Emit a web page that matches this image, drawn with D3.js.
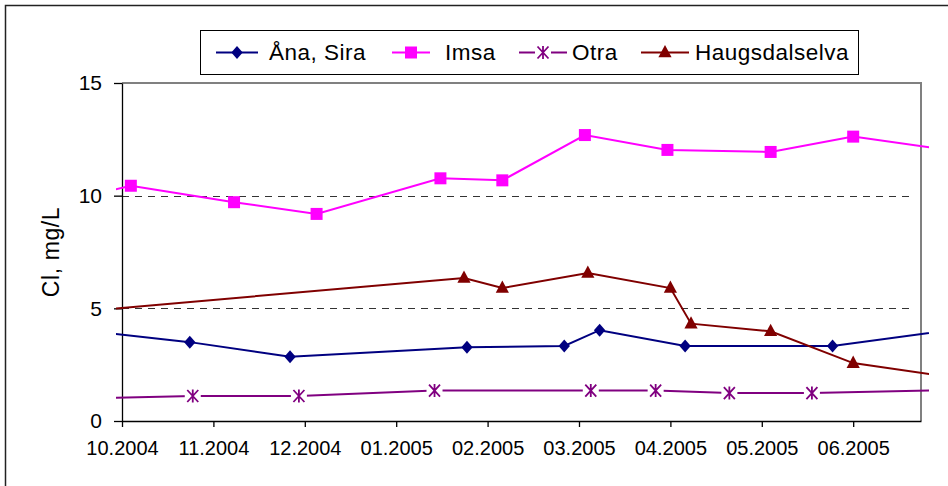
<!DOCTYPE html>
<html>
<head>
<meta charset="utf-8">
<script src="https://cdn.jsdelivr.net/npm/d3@7"></script>
<style>
  body { margin: 0; background: #fff; }
  svg { display: block; font-family: "Liberation Sans", Arial, sans-serif; }
</style>
</head>
<body>
<svg id="chart" width="948" height="486"></svg>
<script>
// ── Data (first/last points sit outside the visible range) ──
const anaDates = ["2004-09-10", "2004-10-24", "2004-11-27", "2005-01-26", "2005-02-28", "2005-03-12", "2005-04-10", "2005-05-30", "2005-07-12"];
const anaValues = [4.13, 3.5, 2.85, 3.27, 3.33, 4.03, 3.33, 3.33, 4.09];

const imsaDates = ["2004-09-10", "2004-10-04", "2004-11-08", "2004-12-06", "2005-01-17", "2005-02-07", "2005-03-07", "2005-04-04", "2005-05-09", "2005-06-06", "2005-07-12"];
const imsaValues = [9.68, 10.44, 9.71, 9.19, 10.77, 10.68, 12.69, 12.03, 11.94, 12.62, 11.96];

const otraDates = ["2004-09-10", "2004-10-25", "2004-11-30", "2005-01-15", "2005-03-09", "2005-03-31", "2005-04-25", "2005-05-23", "2005-07-12"];
const otraValues = [0.97, 1.11, 1.11, 1.35, 1.35, 1.35, 1.24, 1.24, 1.38];

const haugDates = ["2004-09-10", "2005-01-25", "2005-02-07", "2005-03-08", "2005-04-05", "2005-04-12", "2005-05-09", "2005-06-06", "2005-07-12"];
const haugValues = [4.78, 6.35, 5.9, 6.57, 5.9, 4.32, 3.98, 2.57, 1.89];

const seriesNames = ["Åna, Sira", "Imsa", "Otra", "Haugsdalselva"];
const yTicks = [0, 5, 10, 15];
const yGrid = [5, 10];
const xStart = "2004-10-01";
const xEnd = "2005-06-29";
const xTickStepDays = 31;
const xTickCount = 9;

// ── Layout ──────────────────────────────────────────────────────────────────
const W = 948, H = 486;
const plot = {left: 122, right: 921, top: 83, bottom: 421};

const parse = d3.utcParse("%Y-%m-%d");
const fmt = d3.utcFormat("%m.%Y");

const x = d3.scaleUtc()
  .domain([parse(xStart), parse(xEnd)])
  .range([plot.left, plot.right]);
const y = d3.scaleLinear()
  .domain([0, 15])
  .range([plot.bottom, plot.top]);

const xTickValues = d3.range(xTickCount).map((i) => d3.utcDay.offset(parse(xStart), i * xTickStepDays));

// marker shapes
const diamond = {draw(c) { c.moveTo(0, -6.5); c.lineTo(5.7, 0); c.lineTo(0, 6.5); c.lineTo(-5.7, 0); c.closePath(); }};
const square = {draw(c) { c.rect(-6, -6, 12, 12); }};
const triangle = {draw(c) { c.moveTo(0, -7.5); c.lineTo(6.6, 4.8); c.lineTo(-6.6, 4.8); c.closePath(); }};
const asterisk = {draw(c) {
  c.moveTo(-5.5, -6); c.lineTo(5.5, 6);
  c.moveTo(-5.5, 6); c.lineTo(5.5, -6);
  c.moveTo(0, -6.5); c.lineTo(0, 6.5);
}};

const series = [
  {name: seriesNames[0], dates: anaDates, values: anaValues, color: "#000080", symbol: diamond, fill: true},
  {name: seriesNames[1], dates: imsaDates, values: imsaValues, color: "#FF00FF", symbol: square, fill: true},
  {name: seriesNames[2], dates: otraDates, values: otraValues, color: "#800080", symbol: asterisk, fill: false},
  {name: seriesNames[3], dates: haugDates, values: haugValues, color: "#800000", symbol: triangle, fill: true},
].map((s) => ({...s, points: s.dates.map((d, i) => ({date: parse(d), value: s.values[i]}))}));

const svg = d3.select("#chart").attr("viewBox", `0 0 ${W} ${H}`);

// ── Frames ──────────────────────────────────────────────────────────────────
svg.append("rect")
  .attr("x", 5.5).attr("y", 5.5)
  .attr("width", W + 10).attr("height", H + 10)
  .attr("fill", "#fff").attr("stroke", "#222").attr("stroke-width", 1.5);

// plot border (top/right gray)
svg.append("path")
  .attr("d", `M${plot.left},${plot.top}H${plot.right}V${plot.bottom}`)
  .attr("fill", "none").attr("stroke", "#808080").attr("stroke-width", 2);

// gridlines
svg.append("g")
  .selectAll("line")
  .data(yGrid)
  .join("line")
  .attr("x1", plot.left).attr("x2", plot.right - 6)
  .attr("y1", (d) => Math.round(y(d)) + 0.5).attr("y2", (d) => Math.round(y(d)) + 0.5)
  .attr("stroke", "#333").attr("stroke-width", 1)
  .attr("stroke-dasharray", "7,6");

// ── Axes ────────────────────────────────────────────────────────────────────
const yAxis = svg.append("g")
  .attr("transform", `translate(${plot.left},0)`)
  .call(d3.axisLeft(y).tickValues(yTicks).tickSize(8).tickPadding(12).tickSizeOuter(0));
yAxis.select(".domain").attr("stroke", "#000").attr("stroke-width", 1.3);
yAxis.selectAll(".tick line").attr("stroke", "#000").attr("stroke-width", 1.3);
yAxis.selectAll(".tick text").attr("font-size", 21).attr("fill", "#000")
  .attr("font-family", "'Liberation Sans', Arial, sans-serif");

const xAxis = svg.append("g")
  .attr("transform", `translate(0,${plot.bottom})`)
  .call(d3.axisBottom(x).tickValues(xTickValues).tickFormat(fmt).tickSize(6).tickPadding(14).tickSizeOuter(0));
xAxis.select(".domain").attr("stroke", "#000").attr("stroke-width", 1.3);
xAxis.selectAll(".tick line").attr("stroke", "#000").attr("stroke-width", 1.3);
xAxis.selectAll(".tick text").attr("font-size", 20).attr("fill", "#000")
  .attr("font-family", "'Liberation Sans', Arial, sans-serif");

svg.append("text")
  .attr("transform", `translate(59,${(plot.top + plot.bottom) / 2}) rotate(-90)`)
  .attr("text-anchor", "middle")
  .attr("font-size", 23)
  .attr("letter-spacing", 0.6)
  .text("Cl, mg/L");

// ── Lines & markers ─────────────────────────────────────────────────────────
svg.append("clipPath").attr("id", "clip")
  .append("rect")
  .attr("x", plot.left - 6).attr("y", 0)
  .attr("width", plot.right - plot.left + 14).attr("height", H);

const line = d3.line().x((d) => x(d.date)).y((d) => y(d.value));
const [d0, d1] = x.domain();

const layer = svg.append("g").attr("clip-path", "url(#clip)");
for (const s of series) {
  layer.append("path")
    .datum(s.points)
    .attr("d", line)
    .attr("fill", "none")
    .attr("stroke", s.color)
    .attr("stroke-width", 2);
}

function drawMarker(g, s) {
  if (!s.fill) {
    g.append("rect").attr("x", -8).attr("y", -7).attr("width", 16).attr("height", 14).attr("fill", "#fff");
    g.append("path").attr("d", d3.symbol(s.symbol)())
      .attr("fill", "none").attr("stroke", s.color).attr("stroke-width", 1.8);
  } else {
    g.append("path").attr("d", d3.symbol(s.symbol)()).attr("fill", s.color);
  }
}

for (const s of series) {
  const inside = s.points.filter((p) => p.date >= d0 && p.date <= d1);
  svg.append("g")
    .selectAll("g")
    .data(inside)
    .join("g")
    .attr("transform", (d) => `translate(${x(d.date)},${y(d.value)})`)
    .each(function () { drawMarker(d3.select(this), s); });
}

// ── Legend ──────────────────────────────────────────────────────────────────
const legendX = [216, 392, 519, 641];
const legendLineW = [42, 38, 48, 48];
const legendTextX = [269, 445, 572, 695];
const legend = svg.append("g");
legend.append("rect")
  .attr("x", 200.5).attr("y", 30.5).attr("width", 658).attr("height", 44)
  .attr("fill", "#fff").attr("stroke", "#000").attr("stroke-width", 1);

series.forEach((s, i) => {
  const ly = 52.5;
  const g = legend.append("g");
  g.append("line")
    .attr("x1", legendX[i]).attr("x2", legendX[i] + legendLineW[i])
    .attr("y1", ly).attr("y2", ly)
    .attr("stroke", s.color).attr("stroke-width", 2);
  const m = g.append("g").attr("transform", `translate(${legendX[i] + legendLineW[i] / 2},${ly})`);
  drawMarker(m, s);
  g.append("text")
    .attr("x", legendTextX[i]).attr("y", 59.5)
    .attr("font-size", 22.5)
    .attr("letter-spacing", 0.5)
    .attr("fill", "#000")
    .text(s.name);
});
</script>
</body>
</html>
